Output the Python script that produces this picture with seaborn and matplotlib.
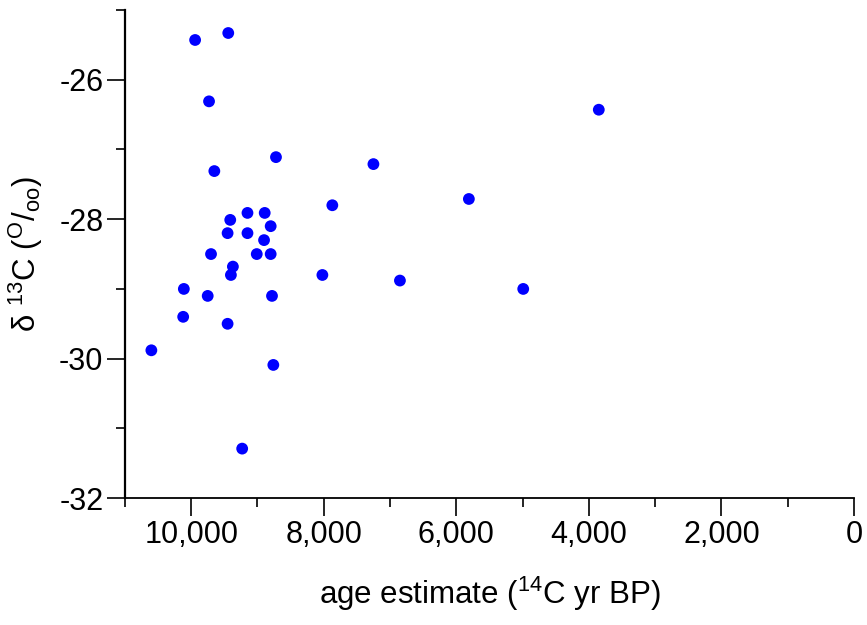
import matplotlib
matplotlib.use("Agg")
import matplotlib.pyplot as plt
import seaborn as sns
import pandas as pd
from matplotlib.ticker import MultipleLocator, FuncFormatter

# age estimates (14C yr BP) and delta 13C values
age = [10600, 9940, 9440, 9730, 9650, 8720, 7250, 3850, 5810, 7870,
       9410, 9150, 8890, 8800, 9450, 9150, 8900, 9700, 9010, 8800,
       9370, 9400, 8020, 10110, 9750, 8780, 10120, 9450, 8760, 6850,
       4990, 9230]
d13c = [-29.88, -25.43, -25.33, -26.31, -27.31, -27.11, -27.21, -26.43, -27.71, -27.80,
        -28.01, -27.91, -27.91, -28.10, -28.20, -28.20, -28.30, -28.50, -28.50, -28.50,
        -28.68, -28.80, -28.80, -29.00, -29.10, -29.10, -29.40, -29.50, -30.09, -28.88,
        -29.00, -31.29]

df = pd.DataFrame({"age": age, "d13c": d13c})

sns.set_style("ticks")
plt.rcParams['font.family'] = ['Liberation Sans', 'DejaVu Sans']
plt.rcParams['mathtext.fontset'] = 'custom'
plt.rcParams['mathtext.rm'] = 'Liberation Sans'
plt.rcParams['mathtext.it'] = 'Liberation Sans'
plt.rcParams['axes.unicode_minus'] = False
plt.rcParams['text.color'] = 'black'
plt.rcParams['axes.labelcolor'] = 'black'
plt.rcParams['xtick.color'] = 'black'
plt.rcParams['ytick.color'] = 'black'

fig, ax = plt.subplots(figsize=(8.67, 6.25), dpi=100)
fig.subplots_adjust(left=0.144, right=0.985, bottom=0.203, top=0.984)

sns.scatterplot(data=df, x="age", y="d13c", color="#0000ff", s=72,
                edgecolor="none", linewidth=0, ax=ax)

ax.set_xlim(11000, 0)
ax.set_ylim(-32, -25)

ax.xaxis.set_major_locator(MultipleLocator(2000))
ax.xaxis.set_minor_locator(MultipleLocator(1000))
ax.yaxis.set_major_locator(MultipleLocator(2))
ax.yaxis.set_minor_locator(MultipleLocator(1))
ax.xaxis.set_major_formatter(FuncFormatter(lambda v, p: f"{int(v):,}"))
ax.yaxis.set_major_formatter(FuncFormatter(lambda v, p: f"{int(v)}"))

ax.tick_params(which="major", length=13, width=1.2, labelsize=22, pad=2.5,
               color="black", labelcolor="black")
ax.tick_params(which="minor", length=6.5, width=1.2, color="black")

sns.despine(ax=ax)
ax.spines["left"].set_linewidth(1.6)
ax.spines["bottom"].set_linewidth(1.3)
ax.spines["left"].set_color("black")
ax.spines["bottom"].set_color("black")

ax.set_xlabel(r"age estimate ($^{14}$C yr BP)", fontsize=22.5, labelpad=18)
ax.set_ylabel(r"$\delta\ ^{13}$C ($^{\rm O}/_{\rm oo}$)", fontsize=22.5, labelpad=10)

fig.savefig("out.png", dpi=100)
